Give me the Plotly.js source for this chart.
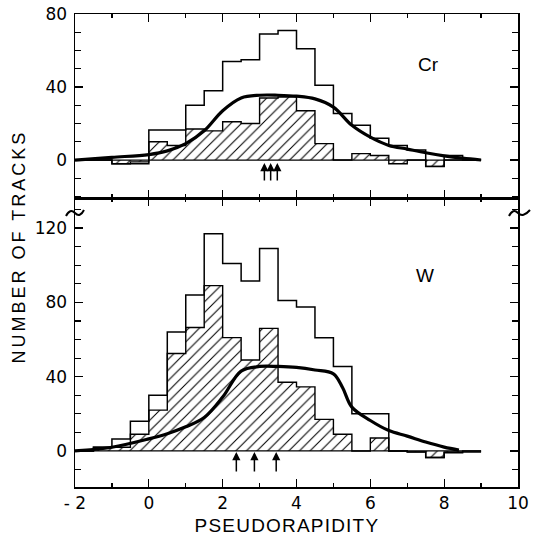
<!DOCTYPE html>
<html><head><meta charset="utf-8">
<script src="https://cdn.plot.ly/plotly-3.0.1.min.js"></script>
<style>
html,body{margin:0;padding:0;background:#fff;}
#chart{width:535px;height:537px;}
g.annotation[data-index="0"] text{letter-spacing:3px;}
g.annotation[data-index="1"] text{letter-spacing:1.2px;}
</style></head><body><div id="chart"></div>
<script>
// bin edges (pseudorapidity), 0.5 wide
const binEdges = [-2,-1.5,-1,-0.5,0,0.5,1,1.5,2,2.5,3,3.5,4,4.5,5,5.5,6,6.5,7,7.5,8,8.5,9];
// Cr panel
const crAll     = [0,0,-2,-2,16.5,16.5,30,38,54,55,69,71,61,41,25.5,19,12,8,5.5,-3.5,2.5,0];
const crHatched = [0,0,-2,-1,10,8,17,16,21,20,34,34.5,27,9,0,3.5,2.5,-2,0,-3.5,0,0];
const crCurveX  = [-2,-1,0,0.5,1,1.5,2,2.5,3,3.5,4,4.5,5,5.5,6,6.5,7,7.5,8,8.5,9];
const crCurveY  = [0,1.5,3,5,9,16,27,34,35.5,35.5,35,33.5,29,19,12.5,8,6,4,2.3,1,0];
const crArrows  = [3.13,3.3,3.48];
// W panel
const wAll      = [0,2,6.5,16,30,64,84,117,101,91.5,109,81,77.5,61,45.5,20,20,0,-0.5,-3.5,-1,-0.5];
const wHatched  = [0,2,2,9,22,52.5,66.5,89,61,49,66,37,34.5,17,9,0,7,0,-0.5,-3.5,-0.5,0];
const wCurveX   = [-2,-1,0,0.5,1,1.5,2,2.5,3,3.5,4,4.5,5,5.25,5.5,6,6.5,7,7.5,8,8.4];
const wCurveY   = [0,2,6.5,9.3,13,18,29,43,45.5,45.5,45,43.6,41.5,34,23.6,16.4,11,8,4.8,2.1,0.5];
const wArrows   = [2.37,2.86,3.45];
// ticks & labels
const xTickVals = [-2,0,2,4,6,8,10];
const xTickText = ['- 2','0','2','4','6','8','10'];
const crLabel = 'Cr', wLabel = 'W';
const xTitle = 'PSEUDORAPIDITY', yTitle = 'NUMBER OF TRACKS';

function stepY(v){ return v.concat([v[v.length-1]]); }
const baseX = [binEdges[0], binEdges[binEdges.length-1]];

function hatched(vals, xa, ya){
  return {x: binEdges, y: stepY(vals), xaxis: xa, yaxis: ya, type:'scatter', mode:'lines',
    line:{shape:'hv', color:'black', width:1.4}, fill:'tozeroy', fillcolor:'rgba(0,0,0,0)',
    fillpattern:{shape:'/', size:7.5, solidity:0.14, fgcolor:'black', bgcolor:'rgba(0,0,0,0)'},
    hoverinfo:'skip', showlegend:false};
}
function openHist(vals, xa, ya){
  return {x: binEdges, y: stepY(vals), xaxis: xa, yaxis: ya, type:'scatter', mode:'lines',
    line:{shape:'hv', color:'black', width:1.5}, hoverinfo:'skip', showlegend:false};
}
function curve(xs, ys, xa, ya){
  return {x: xs, y: ys, xaxis: xa, yaxis: ya, type:'scatter', mode:'lines',
    line:{shape:'spline', smoothing:1, color:'black', width:3.2}, hoverinfo:'skip', showlegend:false};
}
function baseline(xa, ya){
  return {x: baseX, y:[0,0], xaxis: xa, yaxis: ya, type:'scatter', mode:'lines',
    line:{color:'black', width:1.2}, hoverinfo:'skip', showlegend:false};
}

const data = [
  baseline('x2','y2'), hatched(crHatched,'x2','y2'), openHist(crAll,'x2','y2'), curve(crCurveX,crCurveY,'x2','y2'),
  baseline('x','y'), hatched(wHatched,'x','y'), openHist(wAll,'x','y'), curve(wCurveX,wCurveY,'x','y')
];

// geometry helpers for decorations (pixel -> paper)
const L=75, R=17, T=14, B=50, W=535, H=537;
const pw=W-L-R, ph=H-T-B;
function px(x){ return ((x-L)/pw).toFixed(4); }
function py(y){ return ((H-B-y)/ph).toFixed(4); }
const split = (H-B-198)/ph;

const tickFont = {family:'DejaVu Sans', size:17, color:'black'};
const axCommon = {showline:true, linecolor:'black', linewidth:1.5, mirror:'ticks', ticks:'inside',
  tickcolor:'black', tickwidth:1.3, showgrid:false, zeroline:false, tickfont:tickFont};

const xBase = Object.assign({}, axCommon, {range:[-2,10], tickmode:'array', tickvals:xTickVals, ticktext:xTickText,
  ticklen:8, minor:{dtick:1, tick0:0, ticks:'inside', ticklen:4, tickcolor:'black', tickwidth:1.2, showgrid:false}});

const annotations = [
  {text:yTitle, xref:'paper', yref:'paper', x:(18.5-L)/pw, y:(H-B-247)/ph, textangle:-90, showarrow:false,
   xanchor:'center', yanchor:'middle', font:{family:'Liberation Sans', size:18, color:'black'}},
  {text:xTitle, xref:'paper', yref:'paper', x:(287-L)/pw, y:(H-B-525.5)/ph, showarrow:false,
   xanchor:'center', yanchor:'middle', font:{family:'Liberation Sans', size:19, color:'black'}},
  {text:crLabel, xref:'x2', yref:'y2', x:7.57, y:52.3, showarrow:false, font:{family:'Liberation Sans', size:19, color:'black'}},
  {text:wLabel, xref:'x', yref:'y', x:7.47, y:94.7, showarrow:false, font:{family:'Liberation Sans', size:19, color:'black'}}
];
crArrows.forEach(v => annotations.push({x:v, y:-1.6, ax:v, ay:-12, xref:'x2', yref:'y2', axref:'x2', ayref:'y2',
  text:'', showarrow:true, arrowhead:2, arrowsize:1.1, arrowwidth:1.5, arrowcolor:'black'}));
wArrows.forEach(v => annotations.push({x:v, y:-0.5, ax:v, ay:-11.8, xref:'x', yref:'y', axref:'x', ayref:'y',
  text:'', showarrow:true, arrowhead:2, arrowsize:1.1, arrowwidth:1.5, arrowcolor:'black'}));

const shapes = [
  {type:'path', xref:'paper', yref:'paper', layer:'above', line:{color:'black', width:2},
   path:`M ${px(66)} ${py(216)} Q ${px(70)} ${py(208)} ${px(75)} ${py(213)} Q ${px(80)} ${py(218)} ${px(84)} ${py(210)}`},
  {type:'path', xref:'paper', yref:'paper', layer:'above', line:{color:'black', width:2},
   path:`M ${px(509)} ${py(216)} Q ${px(513)} ${py(208)} ${px(518)} ${py(213)} Q ${px(523)} ${py(218)} ${px(530)} ${py(210)}`}
];

const layout = {
  width:W, height:H, margin:{l:L, r:R, t:T, b:B}, paper_bgcolor:'white', plot_bgcolor:'white',
  showlegend:false,
  xaxis: Object.assign({}, xBase, {anchor:'y', ticklabelstandoff:0}),
  xaxis2: Object.assign({}, xBase, {anchor:'y2', matches:'x', showticklabels:false}),
  yaxis: Object.assign({}, axCommon, {domain:[0, split], range:[-19.4, 136.2], dtick:40, tick0:0, ticklen:8,
    minor:{dtick:10, tick0:0, ticks:'inside', ticklen:6, tickcolor:'black', tickwidth:1.2, showgrid:false}, ticklabelstandoff:3}),
  yaxis2: Object.assign({}, axCommon, {domain:[split, 1], range:[-20.8, 80], dtick:40, tick0:0, ticklen:8,
    minor:{dtick:10, tick0:0, ticks:'inside', ticklen:6, tickcolor:'black', tickwidth:1.2, showgrid:false}, ticklabelstandoff:3}),
  annotations: annotations,
  shapes: shapes
};

Plotly.newPlot('chart', data, layout, {staticPlot:true, displayModeBar:false});
</script></body></html>
